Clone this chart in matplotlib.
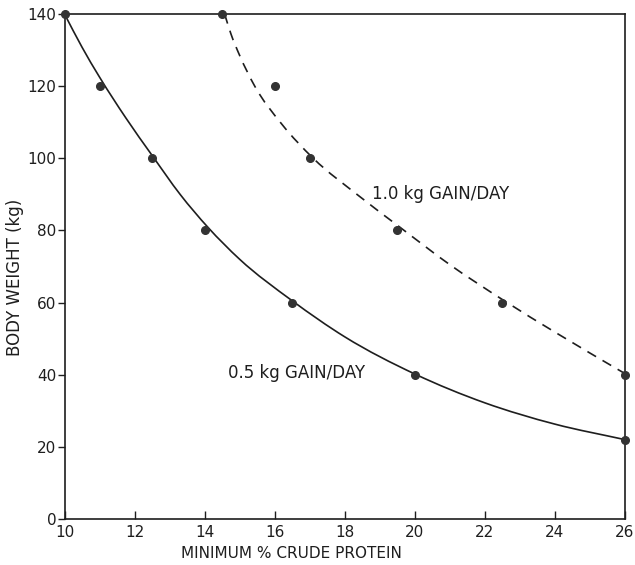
import numpy as np
import matplotlib
matplotlib.use("Agg")
from matplotlib import pyplot as plt
from matplotlib.path import Path
from matplotlib.patches import PathPatch

# observed points
half_x = [10, 11, 12.5, 14, 16.5, 20, 26]
half_y = [140, 120, 100, 80, 60, 40, 22]
one_x = [14.5, 16, 17, 19.5, 22.5, 26]
one_y = [140, 120, 100, 80, 60, 40]

# fitted curves
half_curve_x = [10, 10.5, 11, 11.75, 12.5, 13.3, 14.1, 15, 16.5, 18, 20, 22, 24, 26]
half_curve_y = [140, 130.8, 122.5, 111.2, 100.8, 90, 80.8, 72, 60.5, 50.5, 40.2, 32.2, 26.3, 22]
one_curve_x = [14.57, 14.75, 15, 15.43, 16.2, 17.1, 18.4, 19.6, 21, 22.57, 24, 26]
one_curve_y = [140, 134.5, 128.5, 120, 109.5, 100, 89.6, 80.7, 70.5, 60.4, 51.8, 40.3]

xticks = [10, 12, 14, 16, 18, 20, 22, 24, 26]
yticks = [0, 20, 40, 60, 80, 100, 120, 140]

ink = "#1e1e1e"
plt.rcParams["font.family"] = ["DejaVu Sans"]


def smooth_path(xs, ys):
    # cubic hermite through the read points, drawn as bezier segments
    x = np.asarray(xs, float)
    y = np.asarray(ys, float)
    h = np.diff(x)
    d = np.diff(y) / h
    m = np.empty_like(y)
    m[0] = d[0]
    m[-1] = d[-1]
    m[1:-1] = (d[1:] * h[:-1] + d[:-1] * h[1:]) / (h[:-1] + h[1:])
    verts = [(x[0], y[0])]
    codes = [Path.MOVETO]
    for i in range(len(x) - 1):
        verts += [(x[i] + h[i] / 3, y[i] + m[i] * h[i] / 3),
                  (x[i + 1] - h[i] / 3, y[i + 1] - m[i + 1] * h[i] / 3),
                  (x[i + 1], y[i + 1])]
        codes += [Path.CURVE4] * 3
    return Path(verts, codes)


fig = plt.figure(figsize=(6.35, 5.65), dpi=100)
ax = fig.add_axes([0.1016, 0.0814, 0.8827, 0.8938])

ax.add_patch(PathPatch(smooth_path(half_curve_x, half_curve_y), fill=False, edgecolor=ink, lw=1.2))
ax.add_patch(PathPatch(smooth_path(one_curve_x, one_curve_y), fill=False, edgecolor=ink, lw=1.2,
                       linestyle=(0, (6, 4.5))))
ax.plot(half_x, half_y, "o", color="#333333", ms=5.5, clip_on=False, zorder=5)
ax.plot(one_x, one_y, "o", color="#333333", ms=5.5, clip_on=False, zorder=5)

ax.text(14.66, 40.4, "0.5 kg GAIN/DAY", fontsize=12, color=ink, va="center", ha="left")
ax.text(18.77, 90.2, "1.0 kg GAIN/DAY", fontsize=12, color=ink, va="center", ha="left")

ax.set_xlim(10, 26)
ax.set_ylim(0, 140)
ax.set_xticks(xticks)
ax.set_yticks(yticks)
ax.tick_params(axis="x", direction="in", length=6, width=1, colors=ink, labelsize=11, pad=4)
ax.tick_params(axis="y", direction="out", length=5, width=1, colors=ink, labelsize=11, pad=1)
for s in ax.spines.values():
    s.set_linewidth(1.2)
    s.set_color(ink)

ax.set_xlabel("MINIMUM % CRUDE PROTEIN", fontsize=11, color=ink)
ax.xaxis.set_label_coords(0.404, -0.053)
ax.set_ylabel("BODY WEIGHT (kg)", fontsize=12, color=ink)
ax.yaxis.set_label_coords(-0.073, 0.478)

fig.savefig("out.png", dpi=100)
